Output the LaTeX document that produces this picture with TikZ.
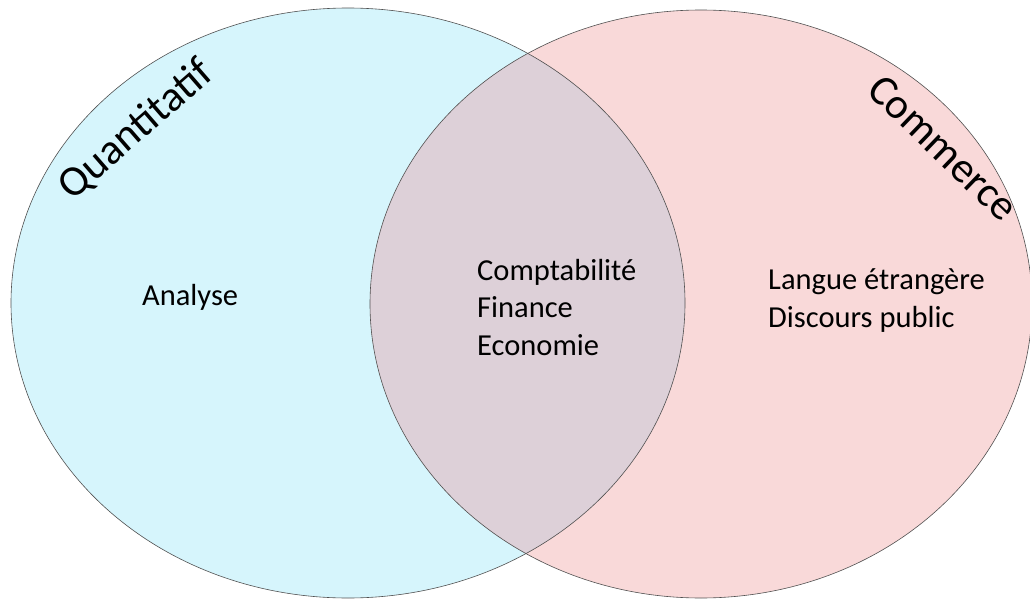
\documentclass[tikz,border=0pt]{standalone}
\usepackage{fontspec}
\setmainfont{Carlito}
\definecolor{quantfill}{HTML}{D6F5FC}
\definecolor{commfill}{HTML}{F9D9D9}
\definecolor{interfill}{HTML}{DDD0D8}
\definecolor{contour}{HTML}{505050}
\begin{document}
\begin{tikzpicture}[x=1pt, y=-1pt,
  ensemble/.style={draw=contour, line width=0.6pt},
  matiere/.style={inner sep=0pt, anchor=base west, align=left, font=\fontsize{30.5}{37.5}\selectfont},
  titre/.style={inner sep=0pt, font=\fontsize{43}{50}\selectfont}]
\useasboundingbox (0,0) rectangle (1030,599);
\clip (0,0) rectangle (1030,599);
% Ensembles
\fill [quantfill] (348,303) ellipse [x radius=337, y radius=295];
\fill [commfill] (701,304) ellipse [x radius=331, y radius=294];
\begin{scope}
  \clip (348,303) ellipse [x radius=337, y radius=295];
  \fill [interfill] (701,304) ellipse [x radius=331, y radius=294];
\end{scope}
\draw [ensemble] (348,303) ellipse [x radius=337, y radius=295];
\draw [ensemble] (701,304) ellipse [x radius=331, y radius=294];
% Titres
\node [titre, rotate=41] (quant) at (136,130) {Quantitatif};
\node [titre, rotate=-44] (comm) at (943,148) {Commerce};
% Matieres (ancre sur la derniere ligne)
\node [matiere] (analyse) at (142,305) {Analyse};
\node [matiere] (commun) at (477,355) {Comptabilité\\Finance\\Economie};
\node [matiere] (langue) at (768,327) {Langue étrangère\\Discours public};
\end{tikzpicture}
\end{document}
